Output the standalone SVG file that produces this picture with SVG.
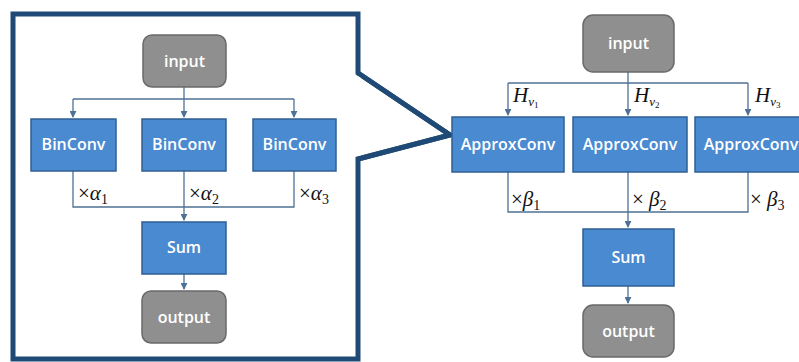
<svg xmlns="http://www.w3.org/2000/svg" width="799" height="362" viewBox="0 0 799 362">
<defs>
<marker id="arr" viewBox="0 0 8 8" refX="7" refY="4" markerWidth="7" markerHeight="7" markerUnits="userSpaceOnUse" orient="auto">
<path d="M0,0 L8,4 L0,8 z" fill="#4f7196"/>
</marker>
<style>
.blue{fill:#4a8ad0;stroke:#2f5f93;stroke-width:1.5}
.gray{fill:#8f8f8f;stroke:#6a6a6a;stroke-width:1.5}
.lbl{font-family:"Open Sans","Noto Sans",sans-serif;font-size:16px;font-weight:600;fill:#ffffff;text-anchor:middle}
.math{font-family:"Liberation Serif","DejaVu Serif",serif;font-size:21px;fill:#111}
.mi{font-style:italic}
.sub{font-size:14px}
.ln{fill:none;stroke:#4f7196;stroke-width:1.3}
.frame{fill:none;stroke:#1f4a75;stroke-width:5;stroke-linejoin:miter}
</style>
</defs>
<rect width="799" height="362" fill="#ffffff"/>
<path class="frame" d="M358,73 L358,14 L13,14 L13,359 L358,359 L358,159 L450,135 Z"/>
<rect x="356" y="76" width="5" height="80" fill="#ffffff"/>
<path class="frame" d="M358,73 L450,135 L358,159" fill="none"/>
<g id="connectors">
<path class="ln" d="M184,87 V117" marker-end="url(#arr)"/>
<path class="ln" d="M73,99 H294"/>
<path class="ln" d="M73,99 V117" marker-end="url(#arr)"/>
<path class="ln" d="M294,99 V117" marker-end="url(#arr)"/>
<path class="ln" d="M73,171 V207 H294 V171"/>
<path class="ln" d="M184,171 V220" marker-end="url(#arr)"/>
<path class="ln" d="M184,274 V289" marker-end="url(#arr)"/>
<path class="ln" d="M628,72 V115" marker-end="url(#arr)"/>
<path class="ln" d="M508,83 H748"/>
<path class="ln" d="M508,83 V115" marker-end="url(#arr)"/>
<path class="ln" d="M748,83 V115" marker-end="url(#arr)"/>
<path class="ln" d="M508,172 V212 H748 V172"/>
<path class="ln" d="M628,172 V227" marker-end="url(#arr)"/>
<path class="ln" d="M628,286 V303" marker-end="url(#arr)"/>
</g>
<g id="l_input"><rect class="gray" x="143" y="35" width="83" height="52" rx="9"/><text class="lbl" x="184.5" y="67">input</text></g>
<g id="l_bin1"><rect class="blue" x="31" y="119" width="85" height="52"/><text class="lbl" x="73.5" y="150">BinConv</text></g>
<g id="l_bin2"><rect class="blue" x="142" y="119" width="84" height="52"/><text class="lbl" x="184" y="150">BinConv</text></g>
<g id="l_bin3"><rect class="blue" x="253" y="119" width="83" height="52"/><text class="lbl" x="294.5" y="150">BinConv</text></g>
<g id="l_sum"><rect class="blue" x="142" y="222" width="84" height="52"/><text class="lbl" x="184" y="253">Sum</text></g>
<g id="l_output"><rect class="gray" x="142" y="291" width="84" height="52" rx="9"/><text class="lbl" x="184" y="323">output</text></g>
<g id="l_labels">
<text class="math" x="78" y="200">×<tspan class="mi">α</tspan><tspan class="sub" dy="4">1</tspan></text>
<text class="math" x="189" y="200">×<tspan class="mi">α</tspan><tspan class="sub" dy="4">2</tspan></text>
<text class="math" x="299" y="200">×<tspan class="mi">α</tspan><tspan class="sub" dy="4">3</tspan></text>
</g>
<g id="r_input"><rect class="gray" x="583" y="15" width="91" height="57" rx="10"/><text class="lbl" x="628.5" y="49">input</text></g>
<g id="r_ap1"><rect class="blue" x="452" y="117" width="112" height="55"/><text class="lbl" x="508" y="150">ApproxConv</text></g>
<g id="r_ap2"><rect class="blue" x="573" y="117" width="114" height="55"/><text class="lbl" x="630" y="150">ApproxConv</text></g>
<g id="r_ap3"><rect class="blue" x="695" y="117" width="112" height="55"/><text class="lbl" x="751" y="150">ApproxConv</text></g>
<g id="r_sum"><rect class="blue" x="583" y="229" width="91" height="57"/><text class="lbl" x="628.5" y="263">Sum</text></g>
<g id="r_output"><rect class="gray" x="583" y="305" width="91" height="52" rx="10"/><text class="lbl" x="628.5" y="337">output</text></g>
<g id="r_labels">
<text class="math" x="513" y="102"><tspan class="mi">H</tspan><tspan class="mi" font-size="13" dy="4">v</tspan><tspan font-size="9" dy="2">1</tspan></text>
<text class="math" x="634" y="102"><tspan class="mi">H</tspan><tspan class="mi" font-size="13" dy="4">v</tspan><tspan font-size="9" dy="2">2</tspan></text>
<text class="math" x="755" y="102"><tspan class="mi">H</tspan><tspan class="mi" font-size="13" dy="4">v</tspan><tspan font-size="9" dy="2">3</tspan></text>
<text class="math" x="511" y="206">×<tspan class="mi">β</tspan><tspan class="sub" dy="4">1</tspan></text>
<text class="math" x="632" y="206">× <tspan class="mi">β</tspan><tspan class="sub" dy="4">2</tspan></text>
<text class="math" x="750" y="206">× <tspan class="mi">β</tspan><tspan class="sub" dy="4">3</tspan></text>
</g>
</svg>
